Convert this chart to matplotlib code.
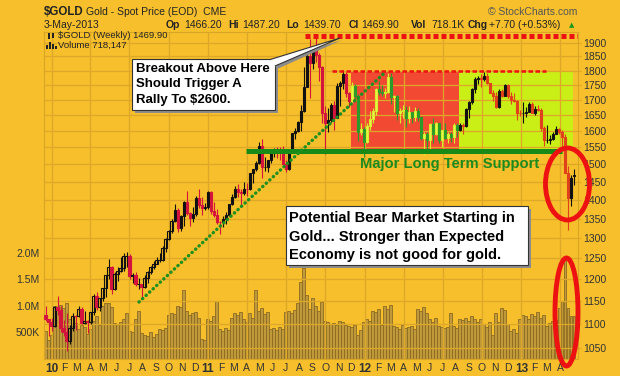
import matplotlib
matplotlib.use("Agg")
import matplotlib.pyplot as plt
import matplotlib.dates as mdates
from matplotlib.patches import Rectangle, Ellipse, Polygon
import numpy as np
import pandas as pd

W, H = 620, 376
BG = "#f6bf2b"
GRID = "#dea72a"
FONT = "Liberation Sans"

# weekly candles, first bar ends 18-Dec-2009
first_week = "2009-12-18"
opens = [1120, 1110, 1104, 1096, 1138, 1130, 1091, 1083, 1064, 1092, 1118, 1117, 1133, 1102, 1106, 1105, 1125, 1162,
         1136, 1156, 1180, 1209, 1228, 1177, 1213, 1219, 1226, 1256, 1256, 1208, 1210, 1188, 1189, 1181, 1204, 1216,
         1228, 1237, 1246, 1246, 1276, 1297, 1318, 1345, 1372, 1325, 1358, 1394, 1366, 1351, 1362, 1406, 1385, 1377,
         1380, 1421, 1369, 1360, 1342, 1340, 1349, 1360, 1388, 1409, 1429, 1421, 1418, 1431, 1429, 1474, 1486, 1504,
         1556, 1491, 1492, 1512, 1536, 1542, 1541, 1539, 1501, 1486, 1542, 1594, 1602, 1628, 1663, 1744, 1852, 1828,
         1877, 1856, 1812, 1657, 1624, 1636, 1683, 1642, 1745, 1757, 1788, 1723, 1696, 1745, 1713, 1598, 1606, 1566,
         1617, 1639, 1665, 1737, 1725, 1724, 1726, 1777, 1710, 1712, 1658, 1663, 1668, 1642, 1660, 1643, 1663, 1644,
         1578, 1592, 1573, 1622, 1590, 1626, 1572, 1604, 1579, 1590, 1583, 1620, 1605, 1620, 1616, 1670, 1692, 1737,
         1769, 1773, 1772, 1781, 1758, 1724, 1712, 1676, 1731, 1714, 1751, 1712, 1701, 1696, 1657, 1656, 1656, 1662,
         1687, 1658, 1669, 1667, 1609, 1572, 1572, 1577, 1592, 1607, 1597, 1581, 1476, 1405, 1466]
highs = [1140, 1111, 1112, 1140, 1161, 1139, 1108, 1124, 1098, 1123, 1119, 1140, 1137, 1128, 1108, 1127, 1167, 1170,
         1158, 1180, 1210, 1249, 1231, 1218, 1230, 1252, 1262, 1266, 1260, 1214, 1216, 1204, 1190, 1209, 1220, 1232,
         1243, 1252, 1262, 1281, 1300, 1320, 1350, 1388, 1378, 1360, 1398, 1424, 1368, 1380, 1410, 1431, 1407, 1392,
         1425, 1424, 1393, 1376, 1344, 1358, 1368, 1390, 1417, 1437, 1444, 1430, 1449, 1448, 1476, 1487, 1510, 1566,
         1577, 1521, 1513, 1540, 1548, 1552, 1550, 1556, 1512, 1543, 1595, 1610, 1631, 1682, 1814, 1878, 1912, 1884,
         1921, 1861, 1815, 1680, 1675, 1690, 1696, 1758, 1765, 1803, 1796, 1728, 1762, 1753, 1720, 1625, 1614, 1626,
         1665, 1675, 1740, 1764, 1750, 1739, 1790, 1792, 1716, 1718, 1675, 1684, 1680, 1679, 1661, 1677, 1675, 1646,
         1598, 1597, 1626, 1640, 1628, 1627, 1605, 1627, 1596, 1597, 1625, 1627, 1625, 1625, 1675, 1695, 1741, 1778,
         1780, 1788, 1796, 1790, 1758, 1732, 1726, 1735, 1738, 1753, 1755, 1725, 1723, 1699, 1668, 1693, 1678, 1693,
         1694, 1679, 1684, 1673, 1617, 1619, 1589, 1596, 1616, 1611, 1605, 1592, 1495, 1469, 1487]
lows = [1106, 1075, 1085, 1094, 1120, 1083, 1075, 1044, 1058, 1086, 1087, 1114, 1100, 1100, 1081, 1100, 1120, 1130,
        1128, 1150, 1160, 1200, 1166, 1174, 1195, 1216, 1220, 1230, 1200, 1191, 1185, 1177, 1157, 1180, 1192, 1213,
        1224, 1236, 1242, 1244, 1266, 1296, 1313, 1340, 1315, 1318, 1330, 1360, 1331, 1340, 1356, 1378, 1360, 1372,
        1376, 1363, 1355, 1337, 1309, 1327, 1336, 1358, 1387, 1405, 1408, 1382, 1412, 1410, 1427, 1448, 1482, 1500,
        1462, 1480, 1479, 1503, 1522, 1520, 1512, 1495, 1478, 1483, 1538, 1577, 1598, 1601, 1660, 1742, 1705, 1805,
        1830, 1763, 1627, 1532, 1598, 1630, 1604, 1640, 1680, 1736, 1710, 1677, 1690, 1702, 1569, 1588, 1523, 1564,
        1604, 1627, 1652, 1715, 1712, 1707, 1724, 1688, 1660, 1636, 1627, 1642, 1613, 1627, 1627, 1633, 1633, 1574,
        1527, 1546, 1545, 1565, 1587, 1563, 1550, 1576, 1563, 1566, 1564, 1583, 1602, 1592, 1612, 1640, 1688, 1723,
        1752, 1744, 1764, 1752, 1723, 1697, 1672, 1672, 1710, 1712, 1705, 1686, 1693, 1636, 1648, 1626, 1644, 1662,
        1656, 1652, 1663, 1600, 1554, 1565, 1562, 1573, 1590, 1590, 1540, 1475, 1321, 1384, 1440]
closes = [1110, 1104, 1096, 1138, 1130, 1091, 1083, 1064, 1092, 1118, 1117, 1133, 1102, 1106, 1105, 1125, 1162, 1136,
          1156, 1180, 1209, 1228, 1177, 1213, 1219, 1226, 1256, 1256, 1208, 1210, 1188, 1189, 1181, 1204, 1216, 1228,
          1237, 1246, 1246, 1276, 1297, 1318, 1345, 1372, 1325, 1358, 1394, 1366, 1351, 1362, 1406, 1385, 1377, 1380,
          1421, 1369, 1360, 1342, 1340, 1349, 1360, 1388, 1409, 1429, 1421, 1418, 1431, 1429, 1474, 1486, 1504, 1556,
          1491, 1492, 1512, 1536, 1542, 1541, 1539, 1501, 1486, 1542, 1594, 1602, 1628, 1663, 1744, 1852, 1828, 1877,
          1856, 1812, 1657, 1624, 1636, 1683, 1642, 1745, 1757, 1788, 1723, 1696, 1745, 1713, 1598, 1606, 1566, 1617,
          1639, 1665, 1737, 1725, 1724, 1726, 1777, 1710, 1712, 1658, 1663, 1668, 1642, 1660, 1643, 1663, 1644, 1578,
          1592, 1573, 1622, 1590, 1626, 1572, 1604, 1579, 1590, 1583, 1620, 1605, 1620, 1616, 1670, 1692, 1737, 1769,
          1773, 1772, 1781, 1758, 1724, 1712, 1676, 1731, 1714, 1751, 1712, 1701, 1696, 1657, 1656, 1656, 1662, 1687,
          1658, 1669, 1667, 1609, 1572, 1572, 1577, 1592, 1607, 1597, 1581, 1476, 1405, 1462, 1470]
volume_k = [520, 360, 450, 1000, 980, 1020, 960, 1050, 760, 620, 680, 560, 640, 600, 470, 560, 720, 800, 640, 1000,
            1060, 1050, 980, 680, 660, 700, 760, 860, 520, 500, 760, 900, 480, 460, 440, 500, 420, 470, 560, 540,
            580, 820, 860, 840, 1000, 980, 1300, 900, 820, 860, 880, 780, 380, 360, 760, 720, 800, 1100, 560, 520,
            580, 540, 780, 860, 820, 880, 760, 700, 860, 780, 1300, 900, 960, 840, 880, 560, 580, 540, 600, 560,
            880, 900, 860, 920, 1050, 1450, 1720, 1200, 940, 1150, 1000, 900, 1080, 720, 700, 660, 680, 640, 720, 700,
            640, 620, 600, 640, 450, 540, 700, 760, 720, 900, 880, 940, 640, 1000, 940, 1020, 620, 600, 560, 640,
            580, 600, 620, 560, 940, 900, 980, 860, 760, 700, 780, 620, 600, 580, 600, 860, 620, 580, 760, 740,
            780, 720, 800, 760, 700, 760, 660, 600, 700, 450, 860, 700, 960, 920, 660, 520, 560, 480, 760, 820,
            800, 760, 840, 800, 880, 780, 820, 620, 680, 720, 740, 960, 1100, 1900, 960, 800, 800]

# y-axis ticks
price_ticks = list(range(1050, 1901, 50))
vol_ticks = [500e3, 1.0e6, 1.5e6, 2.0e6]
vol_labels = ["500K", "1.0M", "1.5M", "2.0M"]


def fx(px):
    return px / W


def fy(py):
    return 1 - py / H


def day(s):
    return mdates.date2num(pd.Timestamp(s))


dates = pd.date_range(first_week, periods=len(closes), freq="W-FRI")
xd = mdates.date2num(dates)
o = np.array(opens, float)
c = np.array(closes, float)
hi = np.array(highs, float)
lo = np.array(lows, float)

fig = plt.figure(figsize=(W / 100, H / 100), dpi=100, facecolor=BG)
rect = [fx(44), fy(359), fx(578) - fx(44), fy(32) - fy(359)]
axv = fig.add_axes(rect)
ax = fig.add_axes(rect, sharex=axv)
axv.set_facecolor(BG)
ax.patch.set_alpha(0)

x0 = day("2010-01-01")
ax.set_xlim(x0 - 17.5, x0 + 1227.8)

# volume
axv.bar(xd, np.array(volume_k) * 1e3, width=6.0, color="#c09a3a", edgecolor="#8b6b23", linewidth=0.6, zorder=2)
axv.set_ylim(0, 6.15e6)
axv.set_yticks(vol_ticks)
axv.set_yticklabels(vol_labels, fontsize=7.5, family=FONT, color="#333333")
axv.tick_params(axis="y", length=0, pad=3)
for s in axv.spines.values():
    s.set_visible(False)

# price axis
ax.set_yscale("log")
ax.set_ylim(1027.7, 1939.9)
ax.yaxis.tick_right()
ax.set_yticks(price_ticks)
ax.set_yticklabels([str(t) for t in price_ticks], fontsize=7.5, family=FONT, color="#333333")
ax.yaxis.set_minor_locator(matplotlib.ticker.NullLocator())
ax.tick_params(axis="y", length=2, color=GRID, pad=2)
for s in ax.spines.values():
    s.set_color("#d9a526")
    s.set_linewidth(0.8)
ax.spines["right"].set_linestyle((0, (1, 1)))

# grid
for t in price_ticks:
    ax.axhline(t, color=GRID, lw=0.9, zorder=1.5)
quarters = pd.date_range("2010-01-01", "2013-04-01", freq="QS")
for q in quarters:
    ax.axvline(mdates.date2num(q), color=GRID, lw=0.9, zorder=1.5)

# month labels
months = pd.date_range("2010-01-01", "2013-04-01", freq="MS")
ax.set_xticks(mdates.date2num(months))
labels = [m.strftime("%y") if m.month == 1 else m.strftime("%b")[0] for m in months]
ax.set_xticklabels(labels, fontsize=7.5, family=FONT, color="#333333")
for m, tl in zip(months, ax.get_xticklabels()):
    if m.month == 1:
        tl.set_fontweight("bold")
        tl.set_fontsize(8.5)
ax.tick_params(axis="x", length=0, pad=3)
axv.tick_params(axis="x", labelbottom=False, length=0)

# support / resistance zones
zone_top = 1797
support = 1538
red_start, red_end, lime_end = day("2011-11-30"), day("2012-08-08"), day("2013-04-30")
ax.add_patch(Rectangle((red_start, support), red_end - red_start, zone_top - support,
                       facecolor="#f24a32", edgecolor="none", zorder=1))
ax.add_patch(Rectangle((red_end, support), lime_end - red_end, zone_top - support,
                       facecolor="#c9ef16", edgecolor="none", zorder=1))

# candles
up = c >= o
in_red = (xd >= red_start) & (xd < red_end)
in_lime = (xd >= red_end) & (xd <= lime_end)
for i in range(len(c)):
    if in_red[i]:
        col = "#d8ef2c" if up[i] else "#2a9a2a"
        face = "#e8f550" if up[i] else col
    elif in_lime[i]:
        col = "#111111" if up[i] else "#e0401a"
        face = "none" if up[i] else col
    else:
        col = "#111111" if up[i] else "#d4143c"
        face = "none" if up[i] else col
    ax.vlines(xd[i], lo[i], hi[i], color=col, lw=0.8, zorder=3)
    bottom = min(o[i], c[i])
    ax.bar(xd[i], max(abs(c[i] - o[i]), 0.5), bottom=bottom, width=5.0, facecolor=face,
           edgecolor=col, linewidth=0.8, zorder=3.5)

# resistance lines
ax.plot([day("2011-08-16"), day("2013-06-30")], [1925, 1925], color="#ee1111", lw=3.6,
        linestyle=(0, (1.0, 0.6)), zorder=4, dash_capstyle="butt")
ax.plot([day("2011-10-18"), day("2013-02-27")], [1798, 1798], color="#ee1111", lw=1.8,
        linestyle=(0, (1.8, 1.0)), zorder=4)
ax.plot([day("2011-03-30"), day("2013-04-05")], [support, support], color="#178a17", lw=3.6,
        zorder=4, solid_capstyle="butt")
ax.plot([day("2010-07-24"), day("2012-02-16")], [1148, 1791], color="#1f8f1f", lw=2.4,
        linestyle=(0, (0.1, 1.35)), dash_capstyle="round", zorder=4)
ax.text(day("2011-12-21"), 1502, "Major Long Term Support", fontsize=10.6, fontweight="bold", family=FONT,
        color="#1d8a1d", va="center", ha="left", zorder=5)

# ellipses around the April 2013 crash
fig.add_artist(Ellipse((fx(567.5), fy(184)), fx(44), 72 / H, fill=False, edgecolor="#ee1111", lw=3.5))
fig.add_artist(Ellipse((fx(566.5), fy(312)), fx(23), 108 / H, fill=False, edgecolor="#ee1111", lw=3.5))


def callout(x1, y1, x2, y2, lines, size, line_y, text_x):
    fig.add_artist(Rectangle((fx(x1 + 3), fy(y2 + 3)), fx(x2 - x1), (y2 - y1) / H,
                             facecolor="#8c8c8c", edgecolor="none"))
    fig.add_artist(Rectangle((fx(x1), fy(y2)), fx(x2 - x1), (y2 - y1) / H,
                             facecolor="white", edgecolor="#333333", lw=0.8))
    for ln, yy in zip(lines, line_y):
        fig.text(fx(text_x), fy(yy), ln, fontsize=size, fontweight="bold", family=FONT,
                 color="black", va="center", ha="left")


callout(132, 59, 275, 110, ["Breakout Above Here", "Should Trigger A", "Rally To $2600."],
        9.5, [69.5, 84.5, 99.5], 136)
# pointer of the first callout
tip = (fx(340), fy(38))
fig.add_artist(Polygon([(fx(272), fy(61)), (fx(342), fy(40)), (fx(277), fy(69))], closed=True,
                       facecolor="#8c8c8c", edgecolor="none"))
fig.add_artist(Polygon([(fx(270), fy(59.6)), tip, (fx(275), fy(66))], closed=False,
                       facecolor="white", edgecolor="#333333", lw=0.8))
callout(286, 206, 528, 265, ["Potential Bear Market Starting in", "Gold... Stronger than Expected",
                             "Economy is not good for gold."], 10.5, [218.5, 237, 255], 289)

# header
fig.text(fx(44), fy(12), "$GOLD", fontsize=8.3, fontweight="bold", family=FONT, color="#222222", va="center")
fig.text(fx(86), fy(12), "Gold - Spot Price (EOD)  CME", fontsize=7.5, family=FONT, color="#222222",
         va="center")
fig.text(fx(577), fy(12), "\u00a9 StockCharts.com", fontsize=7.5, family=FONT, color="#555555",
         va="center", ha="right")
fig.text(fx(44), fy(24.5), "3-May-2013", fontsize=7.5, family=FONT, color="#222222", va="center")
quote = [("Op", 166, True), ("1466.20", 184.5, False), ("Hi", 228, True), ("1487.20", 242, False),
         ("Lo", 286, True), ("1439.70", 303.5, False), ("Cl", 348.5, True), ("1469.90", 361.5, False),
         ("Vol", 411, True), ("718.1K", 431, False), ("Chg", 468, True), ("+7.70 (+0.53%)", 489, False)]
for txt, xp, bold in quote:
    fig.text(fx(xp), fy(24.5), txt, fontsize=7.5, family=FONT, color="#222222", va="center",
             fontweight="bold" if bold else "normal")
fig.text(fx(572), fy(25), "\u25b2", fontsize=5, family="DejaVu Sans", color="#1a9a1a", va="center",
         ha="center")

# legend lines
fig.text(fx(58), fy(35.5), "$GOLD (Weekly) 1469.90", fontsize=6.8, family=FONT, color="#222222", va="center")
fig.text(fx(58), fy(45.5), "Volume 718,147", fontsize=6.8, family=FONT, color="#222222", va="center")
fig.add_artist(Rectangle((fx(48), fy(39)), fx(2), 6 / H, facecolor="#222222", edgecolor="none"))
fig.add_artist(Rectangle((fx(52), fy(38)), fx(2), 5 / H, facecolor="#222222", edgecolor="none"))
for bx, bh in [(46, 4), (49, 7), (52, 5), (55, 3)]:
    fig.add_artist(Rectangle((fx(bx), fy(49)), fx(2), bh / H, facecolor="#222222", edgecolor="none"))

fig.savefig("out.png", dpi=100, facecolor=BG)
